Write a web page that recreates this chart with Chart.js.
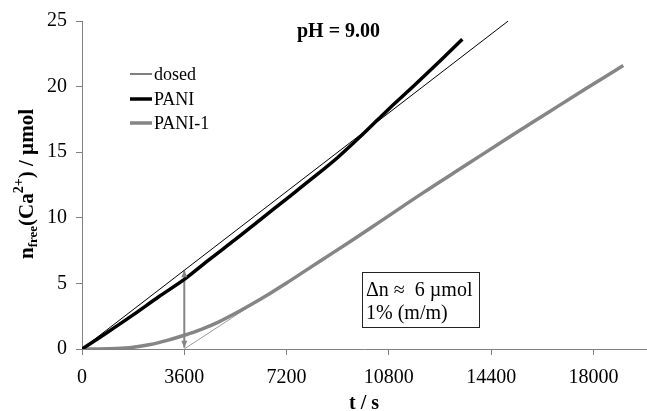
<!DOCTYPE html>
<html>
<head>
<meta charset="utf-8">
<script src="https://cdn.jsdelivr.net/npm/chart.js@4.4.1/dist/chart.umd.min.js"></script>
<style>
  html, body { margin: 0; padding: 0; background: #fff; }
  #wrap { width: 647px; height: 411px; }
</style>
</head>
<body>
<div id="wrap"><canvas id="kayra"></canvas></div>
<script>
// arvot luettu kuvasta (t / s, n / µmol)
const tDosed = [0, 15000];
const nDosed = [0, 25];

const tPani = [0, 900, 1800, 2700, 3600, 4500, 5400, 6300, 7200, 8100, 9000, 9900, 10800, 11700, 12600, 13385];
const nPani = [0, 1.28, 2.6, 3.98, 5.3, 6.85, 8.35, 9.9, 11.45, 13.0, 14.6, 16.4, 18.3, 20.1, 21.95, 23.6];

const tPani1 = [0, 600, 1200, 1800, 2400, 3000, 3600, 4200, 4800, 5400, 6000, 6600, 7200, 7800, 8400,
  9430, 10490, 12000, 13500, 15000, 16350, 17700, 19050];
const nPani1 = [0, 0, 0.03, 0.13, 0.34, 0.66, 1.05, 1.5, 2.05, 2.72, 3.45, 4.22, 5.03, 5.88, 6.73,
  8.18, 9.71, 11.9, 14.0, 16.1, 17.95, 19.8, 21.6];

// apuviiva (tangentti) ja nuoli kohdassa t = 3600 s
const tOffset = [3600, 7000];
const nOffset = [0, 4.82];
const tArrow = [3600, 3600];
const nArrow = [0.1, 6.0];

const xTicks = [0, 3600, 7200, 10800, 14400, 18000];
const yTicks = [0, 5, 10, 15, 20, 25];

const serif = '"Liberation Serif", "Times New Roman", serif';
const grey = '#858585';

function pisteet(xs, ys) {
  return xs.map((x, i) => ({ x: x, y: ys[i] }));
}

// omat tekstit, selite ja nuolenkärjet
const lisat = {
  id: 'lisat',
  afterDatasetsDraw(chart) {
    const ctx = chart.ctx;
    const xs = chart.scales.x, ys = chart.scales.y;
    ctx.save();

    // nuolenkärjet
    const ax = xs.getPixelForValue(tArrow[0]);
    const yLow = ys.getPixelForValue(nArrow[0]);
    const yHigh = ys.getPixelForValue(nArrow[1]);
    ctx.fillStyle = grey;
    ctx.beginPath();
    ctx.moveTo(ax, yHigh); ctx.lineTo(ax - 3, yHigh + 7); ctx.lineTo(ax + 3, yHigh + 7); ctx.closePath();
    ctx.moveTo(ax, yLow); ctx.lineTo(ax - 3, yLow - 7); ctx.lineTo(ax + 3, yLow - 7); ctx.closePath();
    ctx.fill();

    // selite
    const rivit = [
      { text: 'dosed', ds: 0, y: 74 },
      { text: 'PANI', ds: 1, y: 99 },
      { text: 'PANI-1', ds: 2, y: 123 }
    ];
    ctx.font = '18px ' + serif;
    ctx.textBaseline = 'alphabetic';
    ctx.textAlign = 'left';
    rivit.forEach(r => {
      const d = chart.data.datasets[r.ds];
      ctx.strokeStyle = d.borderColor;
      ctx.lineWidth = d.borderWidth;
      ctx.beginPath();
      ctx.moveTo(130, r.y); ctx.lineTo(152, r.y);
      ctx.stroke();
      ctx.fillStyle = '#000';
      ctx.fillText(r.text, 154, r.y + 6);
    });

    // pH
    ctx.font = 'bold 20px ' + serif;
    ctx.fillText('pH = 9.00', 297, 37);

    // laatikko
    ctx.strokeStyle = '#222';
    ctx.lineWidth = 1;
    ctx.strokeRect(362.5, 272.5, 117, 55);
    ctx.font = '20px ' + serif;
    ctx.fillText('\u0394n \u2248  6 \u00b5mol', 366, 296);
    ctx.fillText('1% (m/m)', 366, 319);

    // x-akselin otsikko
    ctx.font = 'bold 20px ' + serif;
    ctx.textAlign = 'center';
    ctx.fillText('t / s', (chart.chartArea.left + chart.chartArea.right) / 2, 409);

    // y-akselin otsikko alaindeksein
    ctx.textAlign = 'left';
    ctx.translate(33, 259);
    ctx.rotate(-Math.PI / 2);
    const osat = [
      { t: 'n', f: 'bold 21px ', dy: 0 },
      { t: 'free', f: 'bold 13px ', dy: 4 },
      { t: '(Ca', f: 'bold 21px ', dy: 0 },
      { t: '2+', f: 'bold 14px ', dy: -10 },
      { t: ') / \u00b5mol', f: 'bold 21px ', dy: 0 }
    ];
    let px = 0;
    osat.forEach(o => {
      ctx.font = o.f + serif;
      ctx.fillText(o.t, px, o.dy);
      px += ctx.measureText(o.t).width;
    });

    ctx.restore();
  }
};

new Chart(document.getElementById('kayra'), {
  type: 'line',
  data: {
    datasets: [
      { label: 'dosed', data: pisteet(tDosed, nDosed), borderColor: '#000', borderWidth: 1, pointRadius: 0 },
      { label: 'PANI', data: pisteet(tPani, nPani), borderColor: '#000', borderWidth: 3.5, pointRadius: 0,
        cubicInterpolationMode: 'monotone' },
      { label: 'PANI-1', data: pisteet(tPani1, nPani1), borderColor: grey, borderWidth: 3.5, pointRadius: 0,
        cubicInterpolationMode: 'monotone' },
      { label: 'tangentti', data: pisteet(tOffset, nOffset), borderColor: '#9a9a9a', borderWidth: 1, pointRadius: 0 },
      { label: 'nuoli', data: pisteet(tArrow, nArrow), borderColor: grey, borderWidth: 2, pointRadius: 0 }
    ]
  },
  options: {
    responsive: true,
    maintainAspectRatio: false,
    animation: false,
    layout: { padding: { top: 20, right: 1, left: 0, bottom: 0 } },
    plugins: { legend: { display: false }, tooltip: { enabled: false } },
    scales: {
      x: {
        type: 'linear',
        min: 0,
        max: 19850,
        afterBuildTicks: s => { s.ticks = xTicks.map(v => ({ value: v })); },
        afterFit: s => { s.height = 62; },
        ticks: { color: '#000', padding: 11, maxRotation: 0, font: { family: serif, size: 20 },
          callback: v => String(v) },
        grid: { drawOnChartArea: false, drawTicks: true, tickLength: 6, color: '#808080' },
        border: { display: true, color: '#808080' }
      },
      y: {
        min: 0,
        max: 25,
        afterBuildTicks: s => { s.ticks = yTicks.map(v => ({ value: v })); },
        afterFit: s => { s.width = 82; },
        ticks: { color: '#000', padding: 9, font: { family: serif, size: 20 } },
        grid: { drawOnChartArea: false, drawTicks: true, tickLength: 6, color: '#808080' },
        border: { display: true, color: '#808080' }
      }
    }
  },
  plugins: [lisat]
});
</script>
</body>
</html>
